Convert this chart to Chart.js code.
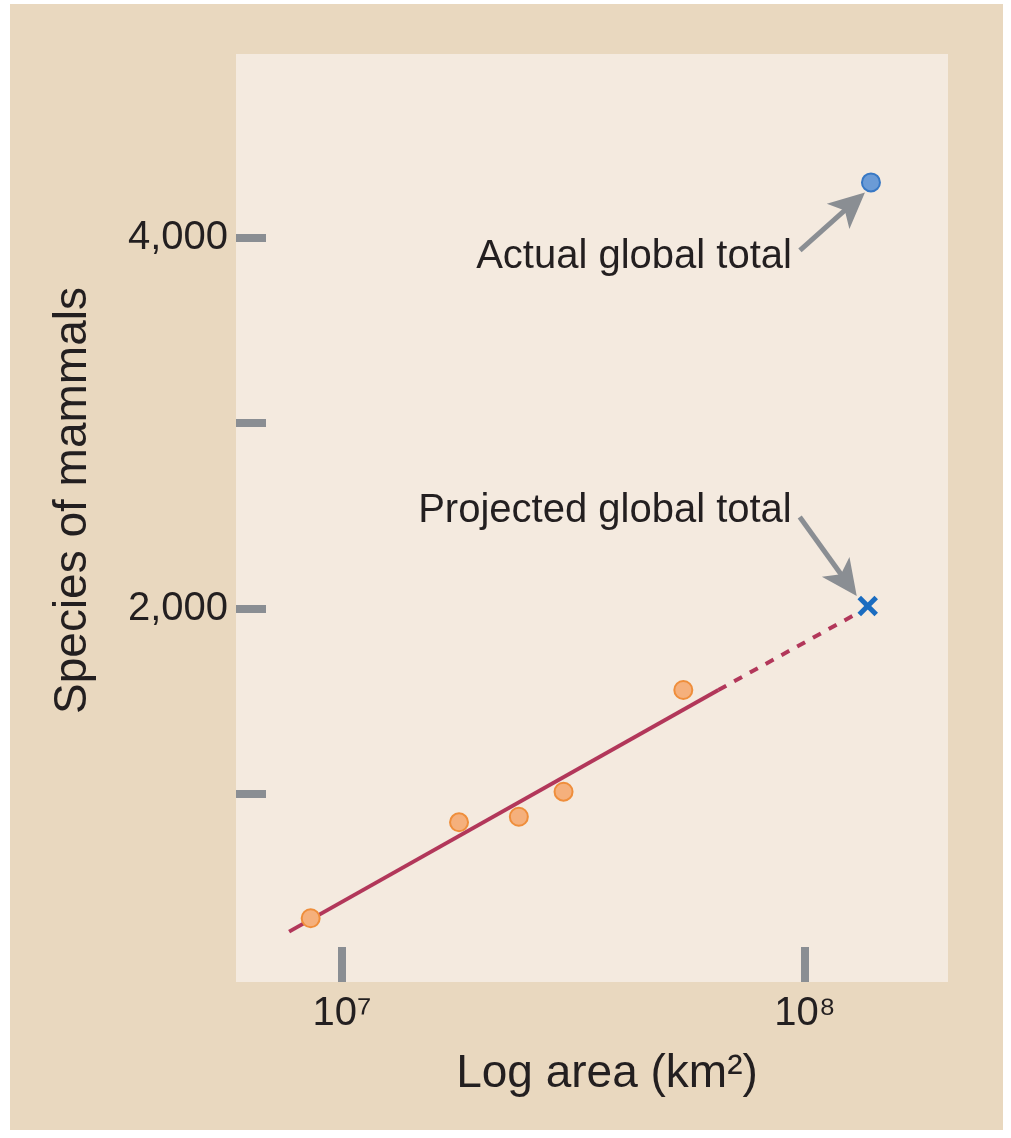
<!DOCTYPE html>
<html>
<head>
<meta charset="utf-8">
<script src="https://cdn.jsdelivr.net/npm/chart.js@4.4.1/dist/chart.umd.min.js"></script>
<style>
  body { margin: 0; background: #fff; }
  canvas { display: block; }
</style>
</head>
<body>
<canvas id="chart" width="1011" height="1138"></canvas>
<script>
// regional samples: area (km2) vs number of mammal species
const regionArea = [8.56e6, 1.79e7, 2.41e7, 3.01e7, 5.46e7]
const regionSpecies = [329, 847, 877, 1012, 1561]

// fitted line, solid part then the extrapolated part
const fitArea = [7.69e6, 6.5e7]
const fitSpecies = [257, 1561]
const extArea = [6.5e7, 1.302e8]
const extSpecies = [1561, 1977]

const actualArea = [1.388e8]
const actualSpecies = [4300]
const projectedArea = [1.366e8]
const projectedSpecies = [2014]

const yTickValues = [1000, 2000, 3000, 4000]
const yTickLabels = ['', '2,000', '', '4,000']
const xTickValues = [1e7, 1e8]
const xTickLabels = ['10\u2077', '10\u2078']

const FONT = "'Liberation Sans', Arial, Helvetica, sans-serif"
const INK = '#231f20'
const TICK = '#8a8e93'

function pts(xs, ys) {
  return xs.map((x, i) => ({ x: x, y: ys[i] }))
}

function drawArrow(ctx, x0, y0, x1, y1) {
  const ang = Math.atan2(y1 - y0, x1 - x0)
  const len = 36
  const half = 17
  const bx = x1 - Math.cos(ang) * len
  const by = y1 - Math.sin(ang) * len
  ctx.save()
  ctx.strokeStyle = TICK
  ctx.fillStyle = TICK
  ctx.lineWidth = 5
  ctx.beginPath()
  ctx.moveTo(x0, y0)
  ctx.lineTo(bx + Math.cos(ang) * 10, by + Math.sin(ang) * 10)
  ctx.stroke()
  const px = -Math.sin(ang), py = Math.cos(ang)
  ctx.beginPath()
  ctx.moveTo(x1, y1)
  ctx.lineTo(bx + px * half, by + py * half)
  ctx.lineTo(bx + Math.cos(ang) * 9, by + Math.sin(ang) * 9)
  ctx.lineTo(bx - px * half, by - py * half)
  ctx.closePath()
  ctx.fill()
  ctx.restore()
}

const backdrop = {
  id: 'backdrop',
  beforeDraw(chart) {
    const ctx = chart.ctx
    const a = chart.chartArea
    ctx.save()
    ctx.fillStyle = '#ffffff'
    ctx.fillRect(0, 0, chart.width, chart.height)
    ctx.fillStyle = '#e9d8bf'
    ctx.fillRect(10, 4, 993, 1126)
    ctx.fillStyle = '#f4eadf'
    ctx.fillRect(a.left - 30, a.top, a.right - a.left + 30, a.bottom - a.top + 35)
    ctx.restore()
  }
}

const notes = {
  id: 'notes',
  afterDatasetsDraw(chart) {
    const ctx = chart.ctx
    const xs = chart.scales.x
    const ys = chart.scales.y
    const ax = xs.getPixelForValue(actualArea[0])
    const ay = ys.getPixelForValue(actualSpecies[0])
    const qx = xs.getPixelForValue(projectedArea[0])
    const qy = ys.getPixelForValue(projectedSpecies[0])

    drawArrow(ctx, ax - 71, ay + 68, ax - 6, ay + 10)
    drawArrow(ctx, qx - 68, qy - 89, qx - 11, qy - 10)

    ctx.save()
    ctx.fillStyle = INK
    ctx.font = '40px ' + FONT
    ctx.textAlign = 'right'
    ctx.textBaseline = 'alphabetic'
    ctx.fillText('Actual global total', ax - 79, ay + 86)
    ctx.fillText('Projected global total', qx - 76, qy - 84)
    ctx.restore()
  }
}

new Chart(document.getElementById('chart'), {
  type: 'scatter',
  data: {
    datasets: [
      {
        data: pts(regionArea, regionSpecies),
        backgroundColor: '#f5b07c',
        borderColor: '#ef8e3b',
        borderWidth: 2,
        pointRadius: 9
      },
      {
        data: pts(actualArea, actualSpecies),
        backgroundColor: '#6b9bd6',
        borderColor: '#3878c4',
        borderWidth: 2,
        pointRadius: 9
      },
      {
        data: pts(projectedArea, projectedSpecies),
        pointStyle: 'crossRot',
        borderColor: '#1a6cc0',
        borderWidth: 5,
        pointRadius: 12
      },
      {
        data: pts(fitArea, fitSpecies),
        showLine: true,
        borderColor: '#b2375a',
        borderWidth: 4,
        pointRadius: 0
      },
      {
        data: pts(extArea, extSpecies),
        showLine: true,
        borderColor: '#b2375a',
        borderWidth: 4,
        borderDash: [9, 9],
        pointRadius: 0
      }
    ]
  },
  options: {
    responsive: false,
    animation: false,
    devicePixelRatio: 1,
    layout: { padding: { top: 54, right: 63, bottom: 0, left: 0 } },
    plugins: {
      legend: { display: false },
      tooltip: { enabled: false }
    },
    scales: {
      x: {
        type: 'logarithmic',
        min: 6.855e6,
        max: 2.036e8,
        afterFit(scale) { scale.height = 191 },
        afterBuildTicks(scale) {
          scale.ticks = xTickValues.map((v) => ({ value: v }))
        },
        border: { display: false },
        grid: {
          drawOnChartArea: false,
          drawTicks: true,
          tickLength: 35,
          lineWidth: 8,
          color: TICK
        },
        ticks: {
          padding: 8,
          color: INK,
          font: { family: FONT, size: 40 },
          maxRotation: 0,
          callback(value) {
            const i = xTickValues.indexOf(value)
            return i === -1 ? '' : xTickLabels[i]
          }
        },
        title: {
          display: true,
          text: 'Log area (km\u00b2)',
          color: INK,
          font: { family: FONT, size: 46 },
          padding: { top: 0, bottom: 36 }
        }
      },
      y: {
        min: 174,
        max: 4993,
        afterFit(scale) { scale.width = 266 },
        afterBuildTicks(scale) {
          scale.ticks = yTickValues.map((v) => ({ value: v }))
        },
        border: { display: false },
        grid: {
          drawOnChartArea: false,
          drawTicks: true,
          tickLength: 30,
          lineWidth: 8,
          color: TICK
        },
        ticks: {
          padding: 8,
          color: INK,
          font: { family: FONT, size: 40 },
          callback(value) {
            const i = yTickValues.indexOf(value)
            return i === -1 ? '' : yTickLabels[i]
          }
        },
        title: {
          display: true,
          text: 'Species of mammals',
          color: INK,
          font: { family: FONT, size: 46 },
          padding: { top: 46, bottom: 0 }
        }
      }
    }
  },
  plugins: [backdrop, notes]
})
</script>
</body>
</html>
